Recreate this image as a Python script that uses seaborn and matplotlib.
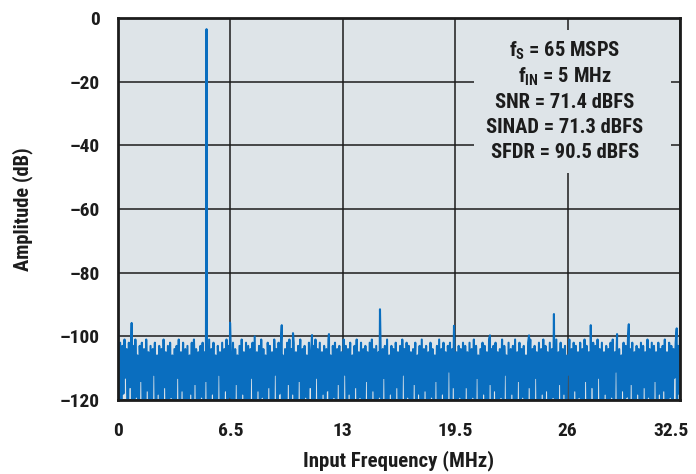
import numpy as np
import pandas as pd
import matplotlib
matplotlib.use("Agg")
import matplotlib.pyplot as plt
import seaborn as sns
from matplotlib.patches import Rectangle
from matplotlib import font_manager
from matplotlib.transforms import ScaledTranslation

# ---- data ----
noise_top = [
    -99, -102, -103, -101, -104, -102, -105, -103, -101, -106, -103, -102, -104, -101, -105, -103, -104, -102, -106, -103,
    -104, -101, -105, -103, -102, -106, -104, -103, -101, -105, -102, -104, -103, -106, -102, -101, -104, -105, -103, -102,
    -105, -103, -101, -104, -102, -106, -103, -105, -102, -104, -101, -103, -105, -102, -104, -106, -103, -101, -105, -102,
    -103, -104, -102, -100, -105, -103, -101, -104, -106, -102, -103, -105, -101, -104, -102, -103, -106, -104, -102, -101,
    -104, -102, -105, -103, -101, -104, -103, -106, -102, -105, -103, -101, -104, -102, -105, -103, -104, -101, -106, -103,
    -102, -104, -103, -105, -101, -103, -104, -102, -106, -103, -101, -105, -102, -104, -103, -105, -102, -101, -104, -103,
    -105, -102, -104, -103, -101, -106, -103, -104, -102, -105, -103, -101, -104, -102, -103, -105, -104, -102, -106, -103,
    -101, -104, -103, -105, -102, -104, -106, -103, -101, -104, -102, -105, -103, -102, -104, -101, -105, -103, -104, -102,
    -103, -105, -102, -104, -101, -103, -106, -104, -102, -103, -105, -101, -104, -103, -102, -105, -104, -101, -103, -106,
    -102, -104, -103, -101, -105, -102, -104, -103, -106, -102, -101, -104, -103, -105, -102, -104, -101, -103, -105, -102,
    -104, -103, -101, -105, -102, -104, -103, -106, -101, -104, -102, -103, -105, -102, -104, -101, -103, -105, -104, -102,
    -103, -101, -104, -102, -105, -103, -104, -102, -101, -105, -103, -104, -106, -102, -103, -101, -104, -102, -105, -103,
    -104, -102, -103, -105, -101, -104, -102, -103, -105, -102, -104, -103, -101, -105, -102, -103, -104, -102, -103, -100,
]
noise_low = [
    -135, -135, -118, -113, -135, -116, -135, -135, -119, -135, -114, -135, -135, -117, -135, -135, -112, -135, -118, -135,
    -135, -116, -135, -135, -119, -135, -135, -113, -135, -117, -135, -135, -135, -118, -135, -115, -135, -135, -119, -135,
    -114, -135, -135, -118, -135, -135, -112, -135, -135, -117, -135, -119, -135, -135, -115, -135, -135, -118, -135, -135,
    -135, -113, -135, -135, -117, -135, -119, -135, -135, -116, -135, -135, -112, -135, -118, -135, -135, -135, -115, -135,
    -118, -135, -135, -114, -135, -135, -119, -135, -116, -135, -135, -113, -135, -135, -118, -135, -117, -135, -135, -119,
    -135, -115, -135, -135, -112, -135, -118, -135, -135, -116, -135, -119, -135, -135, -114, -135, -135, -117, -135, -135,
    -119, -135, -113, -135, -135, -118, -135, -135, -116, -135, -135, -112, -135, -119, -135, -135, -115, -135, -118, -135,
    -135, -117, -135, -135, -119, -135, -114, -135, -135, -118, -135, -135, -111, -135, -116, -135, -135, -119, -135, -135,
    -116, -135, -135, -119, -135, -113, -135, -135, -118, -135, -135, -115, -135, -117, -135, -135, -119, -135, -112, -135,
    -135, -118, -135, -135, -114, -135, -119, -135, -135, -116, -135, -135, -113, -135, -135, -118, -135, -117, -135, -135,
    -119, -135, -135, -115, -135, -118, -135, -112, -135, -135, -117, -135, -119, -135, -135, -114, -135, -135, -116, -135,
    -135, -113, -135, -135, -118, -135, -135, -119, -135, -111, -135, -135, -117, -135, -119, -135, -115, -135, -135, -118,
    -135, -135, -116, -135, -119, -135, -135, -114, -135, -118, -135, -117, -135, -135, -119, -135, -113, -135, -118, -135,
]
spur_freq = [0.01, 0.79, 5.12, 6.48, 9.47, 10.12, 11.22, 12.2, 15.15, 19.43,
             21.51, 23.77, 25.21, 27.34, 28.86, 29.54, 32.31]
spur_db = [-98.0, -95.8, -3.5, -95.7, -96.5, -99.0, -99.6, -99.3, -91.5, -96.7,
           -99.7, -99.7, -93.0, -96.5, -99.3, -96.2, -97.5]

x_ticks = [0, 6.5, 13, 19.5, 26, 32.5]
x_tick_labels = ["0", "6.5", "13", "19.5", "26", "32.5"]
y_ticks = [0, -20, -40, -60, -80, -100, -120]
y_tick_labels = ["0", "\u201320", "\u201340", "\u201360", "\u201380", "\u2013100", "\u2013120"]
notes = ["f$_\\mathregular{S}$ = 65 MSPS",
         "f$_\\mathregular{IN}$ = 5 MHz",
         "SNR = 71.4 dBFS",
         "SINAD = 71.3 dBFS",
         "SFDR = 90.5 dBFS"]
x_label = "Input Frequency (MHz)"
y_label = "Amplitude (dB)"

# ---- styling ----
sns.set_style("white")
names = {f.name for f in font_manager.fontManager.ttflist}
condensed = [n for n in ["Liberation Sans Narrow", "DejaVu Sans Condensed",
                         "Roboto Condensed", "Open Sans Condensed"] if n in names]
stretch = "normal"
if condensed:
    family = [condensed[0], "DejaVu Sans"]
    scale = 1.0
else:
    cond_dv = [f for f in font_manager.fontManager.ttflist
               if f.name == "DejaVu Sans" and f.stretch == "condensed"]
    if cond_dv:
        family = ["DejaVu Sans"]
        stretch = "condensed"
        scale = 0.93
    else:
        family = ["Liberation Sans", "DejaVu Sans"]
        scale = 0.9
plt.rcParams["font.family"] = family
plt.rcParams["font.stretch"] = stretch
plt.rcParams["font.weight"] = "heavy"
plt.rcParams["mathtext.default"] = "regular"
W = "heavy"

BG = "#dee4e8"
BLUE = "#0a6ebf"
DARK = "#1c1c1c"

fig = plt.figure(figsize=(6.96, 4.74), dpi=100)
ax = fig.add_axes([118 / 696, 1 - 400 / 474, 562 / 696, 382 / 474])
ax.set_facecolor(BG)

# build spectrum series
n = len(noise_top)
top_f = np.linspace(0, 32.5, n)
step = top_f[1] - top_f[0]
low_f = top_f + step / 2
freq = np.concatenate([top_f, low_f, np.array(spur_freq)])
amp = np.concatenate([np.array(noise_top, float), np.array(noise_low, float), np.array(spur_db)])
df = pd.DataFrame({"f": freq, "db": amp}).sort_values("f", kind="mergesort")

sns.lineplot(data=df, x="f", y="db", estimator=None, sort=False, color=BLUE,
             linewidth=1.5, ax=ax, zorder=3)

ax.set_xlim(0, 32.5)
ax.set_ylim(-120, 0)
ax.set_xticks(x_ticks)
ax.set_xticklabels(x_tick_labels, fontweight=W)
ax.set_yticks(y_ticks)
ax.set_yticklabels(y_tick_labels, fontweight=W)
ax.tick_params(axis="both", length=0, labelsize=14.0 * scale, colors=DARK)
ax.tick_params(axis="y", pad=13)
ax.tick_params(axis="x", pad=16)
last = ax.get_xticklabels()[-1]
last.set_transform(last.get_transform() + ScaledTranslation(-9 / 100, 0, fig.dpi_scale_trans))

ax.set_axisbelow(True)
ax.grid(True, color=DARK, linewidth=1.1)
for s in ax.spines.values():
    s.set_color(DARK)
    s.set_linewidth(2.0)
    s.set_zorder(5)

# box hiding grid behind annotation
ax.add_patch(Rectangle((20.6, -48.7), 11.4, 44.9, facecolor=BG, edgecolor="none", zorder=1))
baselines = [-12.3, -20.4, -28.3, -36.1, -44.0]
for txt, yb in zip(notes, baselines):
    ax.text(25.85, yb, txt, ha="center", va="baseline", fontsize=14.8 * scale,
            fontweight=W, color=DARK, zorder=4)

ax.set_xlabel(x_label, fontsize=15.0 * scale, fontweight=W, color=DARK)
ax.set_ylabel(y_label, fontsize=14.8 * scale, fontweight=W, color=DARK)
ax.xaxis.set_label_coords(0.5, -0.132)
ax.yaxis.set_label_coords(-0.152, 0.5)

fig.savefig("out.png", dpi=100, facecolor="white")
